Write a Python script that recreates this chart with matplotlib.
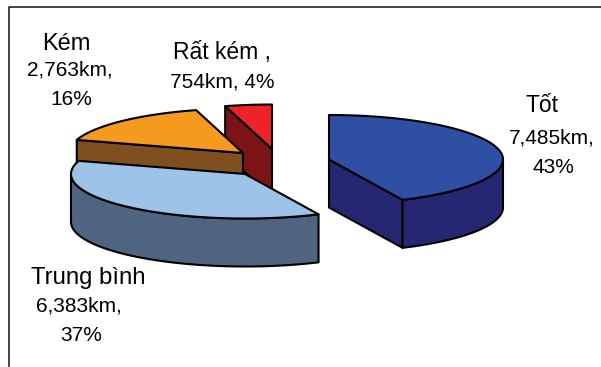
import numpy as np
import matplotlib
matplotlib.use("Agg")
import matplotlib.pyplot as plt
from matplotlib.patches import Polygon

plt.rcParams['font.family'] = ['Liberation Sans', 'DejaVu Sans']

# Road length by condition, clockwise from 12 o'clock
categories = ["Tốt", "Trung bình", "Kém", "Rất kém"]
lengths_km = [7485, 6383, 2763, 754]

top_colors = ["#2E4FA3", "#9DC3E8", "#F5991F", "#EE2327"]
side_colors = ["#252772", "#4F6480", "#7F4F20", "#7C1416"]

# Exploded apex of each slice, in pixels
apexes = [(329, 159.5), (245, 174), (243, 153), (272, 149)]
RX, RY, DEPTH = 174, 44.5, 48


def rim(center, angles):
    """Points on the tilted ellipse; angles are degrees clockwise from the top."""
    t = np.radians(angles)
    return np.column_stack([center[0] + RX * np.sin(t), center[1] - RY * np.cos(t)])


def wall_visible(a, mid):
    d = rim((0, 0), [a])[0]
    m = rim((0, 0), [mid])[0]
    n = np.array([-d[1], d[0]])
    if n @ m > 0:
        n = -n
    return n[1] > 1e-6


fig = plt.figure(figsize=(6.01, 3.67), dpi=100)
ax = fig.add_axes([0, 0, 1, 1])
ax.set_xlim(0, 601)
ax.set_ylim(367, 0)
ax.axis("off")

# Chart frame
ax.plot([9, 9, 601], [366, 7, 7], color="#111111", lw=1.1, zorder=1)

edge = dict(edgecolor="black", linewidth=1.5, joinstyle="round")
total = sum(lengths_km)
start = 0.0
spans = []
for v in lengths_km:
    spans.append((start, start + 360 * v / total))
    start += 360 * v / total

# Back slices first so nearer ones overlap them
for i in [3, 2, 1, 0]:
    a0, a1 = spans[i]
    c = apexes[i]
    mid = (a0 + a1) / 2
    z = 2 + (3 - i)
    for a in (a0, a1):
        if wall_visible(a, mid):
            p = rim(c, [a])[0]
            wall = [c, p, (p[0], p[1] + DEPTH), (c[0], c[1] + DEPTH)]
            ax.add_patch(Polygon(wall, facecolor=side_colors[i], zorder=z, **edge))
    lo, hi = max(a0, 90), min(a1, 270)
    if hi > lo:
        arc = rim(c, np.linspace(lo, hi, 80))
        low = arc + [0, DEPTH]
        ax.add_patch(Polygon(np.vstack([arc, low[::-1]]), facecolor=side_colors[i], zorder=z, **edge))
    top = np.vstack([[c], rim(c, np.linspace(a0, a1, 120))])
    ax.add_patch(Polygon(top, facecolor=top_colors[i], zorder=z, **edge))

# Three-line data labels, placed by baseline
pct = [round(100 * v / total) for v in lengths_km]
txt = dict(color="black", ha="center", va="baseline", zorder=10)
ax.text(542, 112, categories[0], fontsize=16.5, **txt)
ax.text(552, 143, f"{lengths_km[0]:,}km,", fontsize=15, **txt)
ax.text(553, 173, f"{pct[0]}%", fontsize=15, **txt)
ax.text(88, 284, categories[1], fontsize=17.2, **txt)
ax.text(79, 312, f"{lengths_km[1]:,}km,", fontsize=15, **txt)
ax.text(81, 341, f"{pct[1]}%", fontsize=15, **txt)
ax.text(66, 50, categories[2], fontsize=17, **txt)
ax.text(70, 76, f"{lengths_km[2]:,}km,", fontsize=15, **txt)
ax.text(71, 105, f"{pct[2]}%", fontsize=15, **txt)
ax.text(222, 59, categories[3] + " ,", fontsize=16.5, **txt)
ax.text(222, 88, f"{lengths_km[3]:,}km, {pct[3]}%", fontsize=15, **txt)

fig.savefig("out.png", dpi=100)
